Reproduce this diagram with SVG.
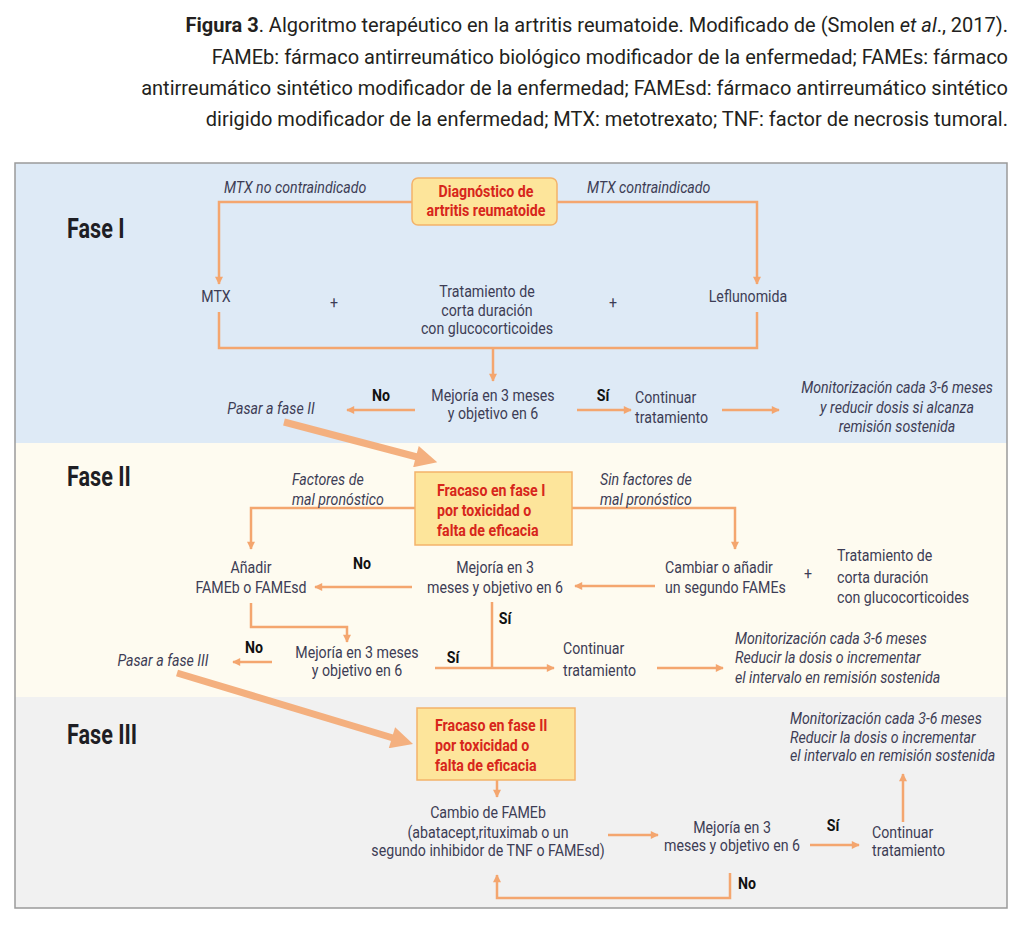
<svg xmlns="http://www.w3.org/2000/svg" width="1024" height="933" viewBox="0 0 1024 933">
<defs>
<style>
.cap{font-family:Roboto,"Liberation Sans",sans-serif;font-size:20px;fill:#231f20}
.t{font-family:Roboto,"Liberation Sans",sans-serif;font-size:16.5px;fill:#3d3d55}
.i{font-style:italic}
.c{text-anchor:middle}
.b{font-family:Roboto,"Liberation Sans",sans-serif;font-size:16.5px;font-weight:bold;fill:#111}
.r{font-family:Roboto,"Liberation Sans",sans-serif;font-size:16.5px;font-weight:bold;fill:#d7261b}
.ph{font-family:Roboto,"Liberation Sans",sans-serif;font-size:27px;font-weight:bold;fill:#1e1e24}
.ln{fill:none;stroke:#f4a66f;stroke-width:2.5}
.ar{marker-end:url(#ah)}
.big{fill:none;stroke:#f4b07f;stroke-width:7;marker-end:url(#bh)}
.box{fill:#fde59b;stroke:#f3b36a;stroke-width:1.5}
</style>
<marker id="ah" viewBox="0 0 10 10" refX="9" refY="5" markerWidth="9" markerHeight="8" markerUnits="userSpaceOnUse" orient="auto"><path d="M0,0 L10,5 L0,10 z" fill="#f4a66f"/></marker>
<marker id="bh" viewBox="0 0 10 10" refX="0.5" refY="5" markerWidth="24" markerHeight="22" markerUnits="userSpaceOnUse" orient="auto"><path d="M0,0 L10,5 L0,10 z" fill="#f4b07f"/></marker>
</defs>
<rect width="1024" height="933" fill="#ffffff"/>
<g id="caption">
<text class="cap" x="1008" y="32" text-anchor="end"><tspan font-weight="bold">Figura 3</tspan>. Algoritmo terapéutico en la artritis reumatoide. Modificado de (Smolen <tspan font-style="italic">et al</tspan>., 2017).</text>
<text class="cap" x="1008" y="64" text-anchor="end">FAMEb: fármaco antirreumático biológico modificador de la enfermedad; FAMEs: fármaco</text>
<text class="cap" x="1008" y="95" text-anchor="end">antirreumático sintético modificador de la enfermedad; FAMEsd: fármaco antirreumático sintético</text>
<text class="cap" x="1008" y="126" text-anchor="end">dirigido modificador de la enfermedad; MTX: metotrexato; TNF: factor de necrosis tumoral.</text>
</g>
<g id="backgrounds">
<rect x="15" y="163" width="992" height="280" fill="#deeaf6"/>
<rect x="15" y="443" width="992" height="254" fill="#fefbf0"/>
<rect x="15" y="697" width="992" height="211" fill="#f1f1f1"/>
<rect x="15" y="163" width="992" height="745" fill="none" stroke="#9a9a9a" stroke-width="1.5"/>
</g>
<g id="phase-labels">
<text class="ph" transform="translate(67,238) scale(.8,1)">Fase I</text>
<text class="ph" transform="translate(67,486) scale(.8,1)">Fase II</text>
<text class="ph" transform="translate(67,744) scale(.8,1)">Fase III</text>
</g>
<g id="connectors">
<path class="ln ar" d="M412,202 H219 V284"/>
<path class="ln ar" d="M557,202 H757 V284"/>
<path class="ln" d="M219,312 V348 H757 V312"/>
<path class="ln ar" d="M493,348 V381"/>
<path class="ln ar" d="M415,410 H347"/>
<path class="ln ar" d="M577,410 H631"/>
<path class="ln ar" d="M722,410 H779"/>
<path class="big" d="M284,422 L417,457"/>
<path class="ln ar" d="M415,508 H251 V549"/>
<path class="ln ar" d="M572,508 H735 V549"/>
<path class="ln ar" d="M412,587 H315"/>
<path class="ln ar" d="M655,586 H575"/>
<path class="ln" d="M492,602 V668"/>
<path class="ln ar" d="M435,668 H554"/>
<path class="ln ar" d="M251,603 V627 H347 V642"/>
<path class="ln ar" d="M272,662 H233"/>
<path class="ln ar" d="M657,668 H723"/>
<path class="big" d="M177,673 L393,738"/>
<path class="ln ar" d="M497,780 V797"/>
<path class="ln ar" d="M608,835 H658"/>
<path class="ln ar" d="M810,845 H859"/>
<path class="ln ar" d="M903,822 V774"/>
<path class="ln ar" d="M730,873 V898 H497 V875"/>
</g>
<g id="n-diagnostico">
<rect class="box" x="412" y="178" width="145" height="47" rx="6" fill="#fde9a6"/>
<text class="r c" transform="translate(486,197) scale(.86,1)">Diagnóstico de</text>
<text class="r c" transform="translate(486,216) scale(.86,1)">artritis reumatoide</text>
</g>
<g id="l-mtx-no">
<text class="t i" transform="translate(224,193) scale(.86,1)">MTX no contraindicado</text>
</g>
<g id="l-mtx-si">
<text class="t i" transform="translate(587,193) scale(.86,1)">MTX contraindicado</text>
</g>
<g id="n-mtx"><text class="t c" transform="translate(216,302) scale(.86,1)">MTX</text></g>
<g id="n-plus1"><text class="t c" transform="translate(334,308) scale(.86,1)">+</text></g>
<g id="n-trat1">
<text class="t c" transform="translate(487,297) scale(.86,1)">Tratamiento de</text>
<text class="t c" transform="translate(487,316) scale(.86,1)">corta duración</text>
<text class="t c" transform="translate(487,334) scale(.86,1)">con glucocorticoides</text>
</g>
<g id="n-plus2"><text class="t c" transform="translate(613,308) scale(.86,1)">+</text></g>
<g id="n-leflunomida"><text class="t c" transform="translate(748,302) scale(.86,1)">Leflunomida</text></g>
<g id="n-mejoria1">
<text class="t c" transform="translate(493,401) scale(.86,1)">Mejoría en 3 meses</text>
<text class="t c" transform="translate(493,419) scale(.86,1)">y objetivo en 6</text>
</g>
<g id="l-no1"><text class="b c" transform="translate(381,401) scale(.86,1)">No</text></g>
<g id="n-pasar2"><text class="t i c" transform="translate(271,414) scale(.86,1)">Pasar a fase II</text></g>
<g id="l-si1"><text class="b c" transform="translate(603,401) scale(.86,1)">Sí</text></g>
<g id="n-continuar1">
<text class="t" transform="translate(635,403) scale(.86,1)">Continuar</text>
<text class="t" transform="translate(635,423) scale(.86,1)">tratamiento</text>
</g>
<g id="n-monit1">
<text class="t i c" transform="translate(897,393) scale(.86,1)">Monitorización cada 3-6 meses</text>
<text class="t i c" transform="translate(897,413) scale(.86,1)">y reducir dosis si alcanza</text>
<text class="t i c" transform="translate(897,432) scale(.86,1)">remisión sostenida</text>
</g>
<g id="n-fracaso1">
<rect class="box" x="415" y="472" width="157" height="73"/>
<text class="r" transform="translate(437,496) scale(.86,1)">Fracaso en fase I</text>
<text class="r" transform="translate(437,516) scale(.86,1)">por toxicidad o</text>
<text class="r" transform="translate(437,536) scale(.86,1)">falta de eficacia</text>
</g>
<g id="l-factores">
<text class="t i" transform="translate(292,485) scale(.86,1)">Factores de</text>
<text class="t i" transform="translate(292,505) scale(.86,1)">mal pronóstico</text>
</g>
<g id="l-sinfactores">
<text class="t i" transform="translate(600,485) scale(.86,1)">Sin factores de</text>
<text class="t i" transform="translate(600,505) scale(.86,1)">mal pronóstico</text>
</g>
<g id="n-anadir">
<text class="t c" transform="translate(251,573) scale(.86,1)">Añadir</text>
<text class="t c" transform="translate(251,593) scale(.86,1)">FAMEb o FAMEsd</text>
</g>
<g id="l-no2"><text class="b c" transform="translate(362,569) scale(.86,1)">No</text></g>
<g id="n-mejoria2">
<text class="t c" transform="translate(495,573) scale(.86,1)">Mejoría en 3</text>
<text class="t c" transform="translate(495,593) scale(.86,1)">meses y objetivo en 6</text>
</g>
<g id="n-cambiar">
<text class="t" transform="translate(665,573) scale(.86,1)">Cambiar o añadir</text>
<text class="t" transform="translate(665,593) scale(.86,1)">un segundo FAMEs</text>
</g>
<g id="n-plus3"><text class="t c" transform="translate(808,579) scale(.86,1)">+</text></g>
<g id="n-trat2">
<text class="t" transform="translate(837,561) scale(.86,1)">Tratamiento de</text>
<text class="t" transform="translate(837,583) scale(.86,1)">corta duración</text>
<text class="t" transform="translate(837,603) scale(.86,1)">con glucocorticoides</text>
</g>
<g id="l-si2"><text class="b c" transform="translate(505,624) scale(.86,1)">Sí</text></g>
<g id="l-si3"><text class="b c" transform="translate(453,663) scale(.86,1)">Sí</text></g>
<g id="n-mejoria3">
<text class="t c" transform="translate(357,658) scale(.86,1)">Mejoría en 3 meses</text>
<text class="t c" transform="translate(357,676) scale(.86,1)">y objetivo en 6</text>
</g>
<g id="l-no3"><text class="b c" transform="translate(254,653) scale(.86,1)">No</text></g>
<g id="n-pasar3"><text class="t i c" transform="translate(163,666) scale(.86,1)">Pasar a fase III</text></g>
<g id="n-continuar2">
<text class="t" transform="translate(563,654) scale(.86,1)">Continuar</text>
<text class="t" transform="translate(563,676) scale(.86,1)">tratamiento</text>
</g>
<g id="n-monit2">
<text class="t i" transform="translate(735,644) scale(.86,1)">Monitorización cada 3-6 meses</text>
<text class="t i" transform="translate(735,663) scale(.86,1)">Reducir la dosis o incrementar</text>
<text class="t i" transform="translate(735,683) scale(.86,1)">el intervalo en remisión sostenida</text>
</g>
<g id="n-fracaso2">
<rect class="box" x="417" y="708" width="158" height="72"/>
<text class="r" transform="translate(435,731) scale(.86,1)">Fracaso en fase II</text>
<text class="r" transform="translate(435,751) scale(.86,1)">por toxicidad o</text>
<text class="r" transform="translate(435,771) scale(.86,1)">falta de eficacia</text>
</g>
<g id="n-cambio">
<text class="t c" transform="translate(488,818) scale(.86,1)">Cambio de FAMEb</text>
<text class="t c" transform="translate(488,838) scale(.86,1)">(abatacept,rituximab o un</text>
<text class="t c" transform="translate(488,856) scale(.86,1)">segundo inhibidor de TNF o FAMEsd)</text>
</g>
<g id="n-mejoria4">
<text class="t c" transform="translate(732,833) scale(.86,1)">Mejoría en 3</text>
<text class="t c" transform="translate(732,851) scale(.86,1)">meses y objetivo en 6</text>
</g>
<g id="l-si4"><text class="b c" transform="translate(833,831) scale(.86,1)">Sí</text></g>
<g id="n-continuar3">
<text class="t" transform="translate(872,838) scale(.86,1)">Continuar</text>
<text class="t" transform="translate(872,856) scale(.86,1)">tratamiento</text>
</g>
<g id="n-monit3">
<text class="t i" transform="translate(790,724) scale(.86,1)">Monitorización cada 3-6 meses</text>
<text class="t i" transform="translate(790,743) scale(.86,1)">Reducir la dosis o incrementar</text>
<text class="t i" transform="translate(790,761) scale(.86,1)">el intervalo en remisión sostenida</text>
</g>
<g id="l-no4"><text class="b c" transform="translate(747,889) scale(.86,1)">No</text></g>
</svg>
